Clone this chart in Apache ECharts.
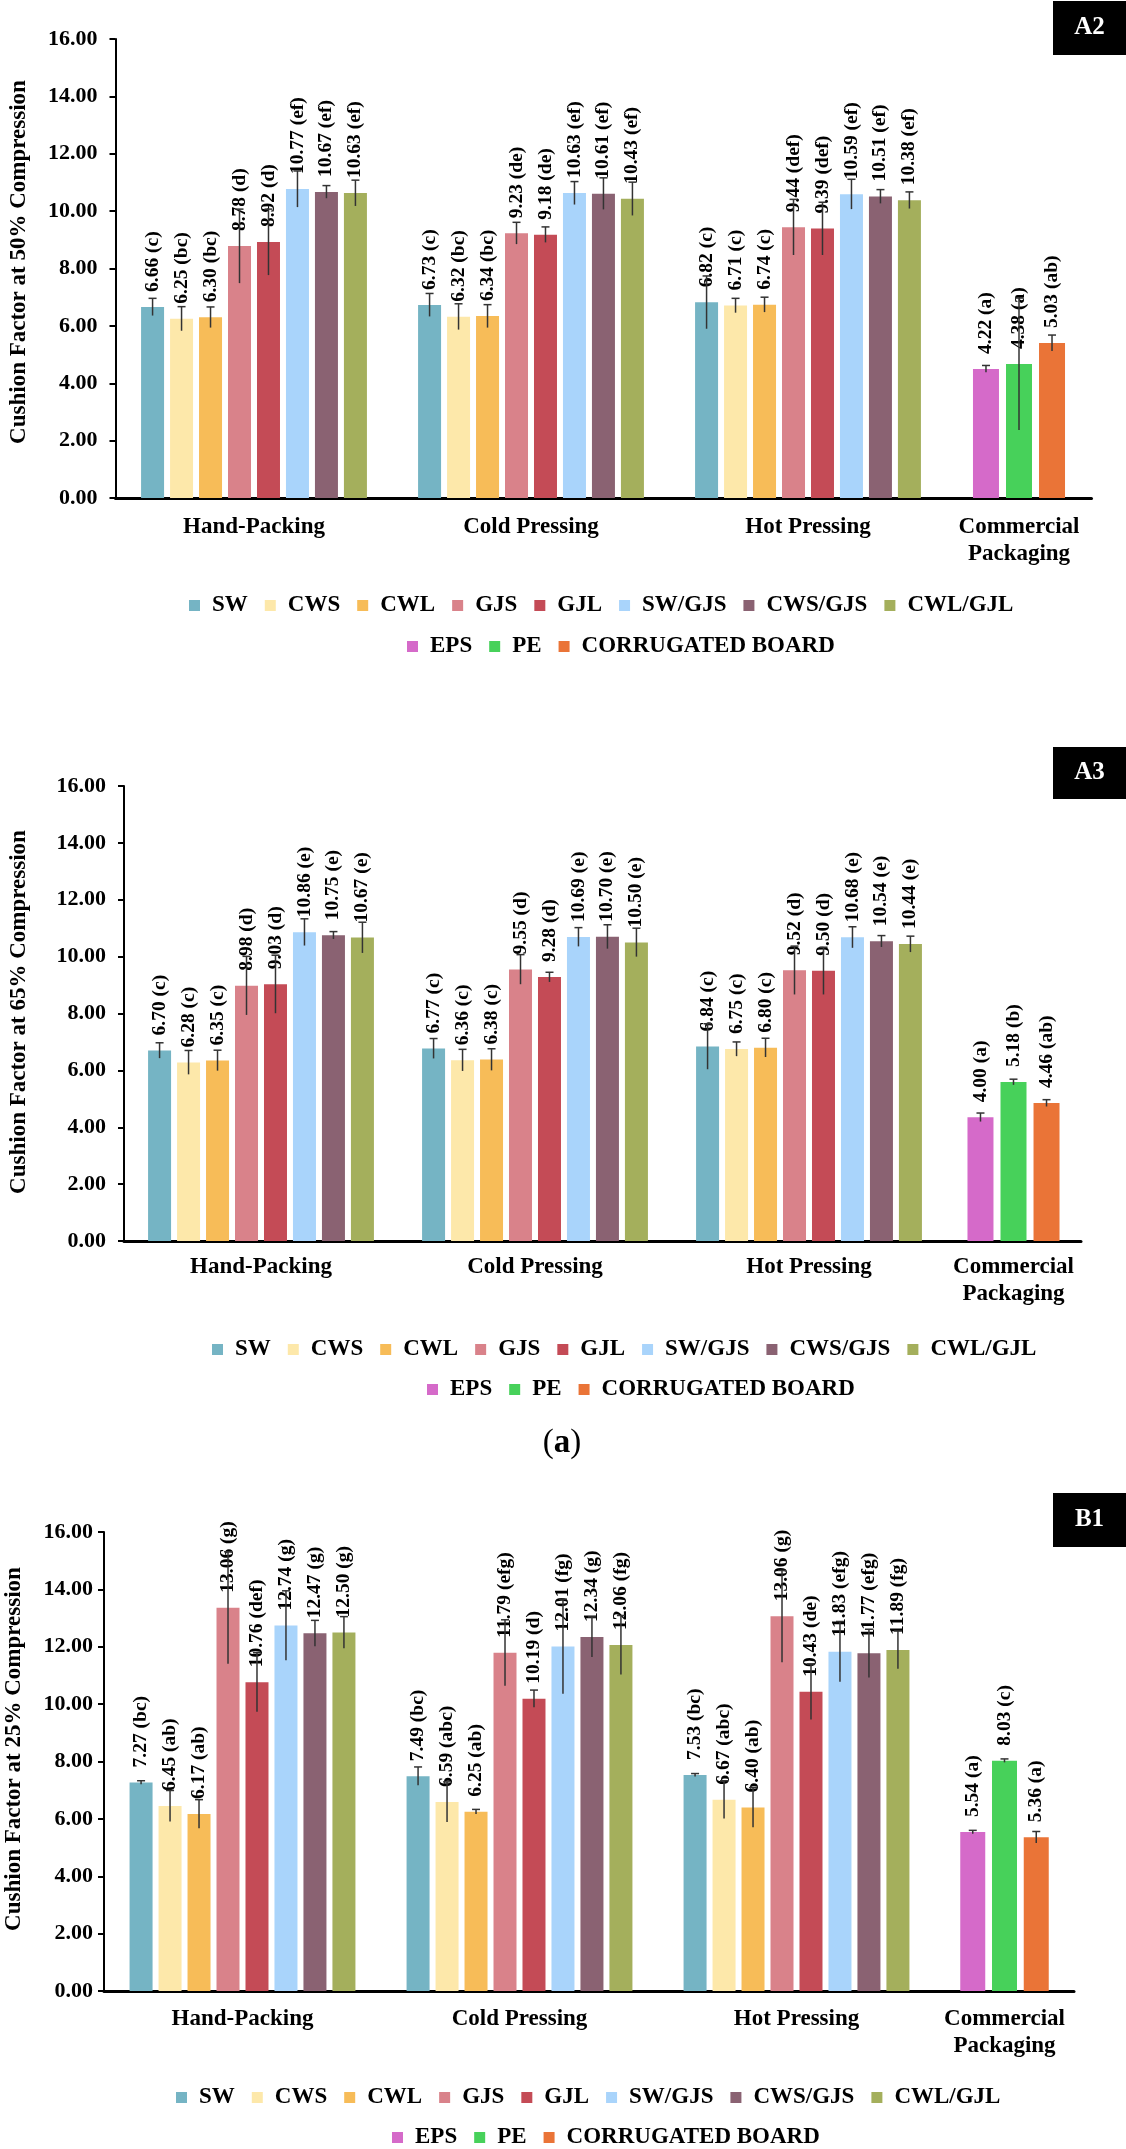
<!DOCTYPE html>
<html><head><meta charset="utf-8">
<script src="https://cdn.jsdelivr.net/npm/echarts@6/dist/echarts.min.js"></script>
<style>html,body{margin:0;padding:0;background:#fff}#c{width:1126px;height:2149px}</style>
</head><body><div id="c"></div>
<script>
// ---------- categories / names ----------
const GROUPS = ['Hand-Packing', 'Cold Pressing', 'Hot Pressing'];
const COMM_GROUP = ['Commercial\nPackaging'];
const FIBERS = ['SW', 'CWS', 'CWL', 'GJS', 'GJL', 'SW/GJS', 'CWS/GJS', 'CWL/GJL'];
const COMMERCIAL = ['EPS', 'PE', 'CORRUGATED BOARD'];
const Y_MIN = 0, Y_MAX = 16, Y_STEP = 2;

// ---------- A2 : 50% compression ----------
const A2_HAND = [6.66, 6.25, 6.30, 8.78, 8.92, 10.77, 10.67, 10.63];
const A2_COLD = [6.73, 6.32, 6.34, 9.23, 9.18, 10.63, 10.61, 10.43];
const A2_HOT  = [6.82, 6.71, 6.74, 9.44, 9.39, 10.59, 10.51, 10.38];
const A2_COMM = [4.50, 4.67, 5.40];
const A2_HAND_ERR = [0.30, 0.42, 0.36, 1.29, 1.15, 0.63, 0.22, 0.45];
const A2_COLD_ERR = [0.40, 0.45, 0.40, 0.38, 0.27, 0.40, 0.55, 0.58];
const A2_HOT_ERR  = [0.92, 0.25, 0.26, 0.97, 0.92, 0.52, 0.24, 0.29];
const A2_COMM_ERR = [0.12, 2.30, 0.28];
const A2_HAND_LBL = ['6.66 (c)', '6.25 (bc)', '6.30 (bc)', '8.78 (d)', '8.92 (d)', '10.77 (ef)', '10.67 (ef)', '10.63 (ef)'];
const A2_COLD_LBL = ['6.73 (c)', '6.32 (bc)', '6.34 (bc)', '9.23 (de)', '9.18 (de)', '10.63 (ef)', '10.61 (ef)', '10.43 (ef)'];
const A2_HOT_LBL  = ['6.82 (c)', '6.71 (c)', '6.74 (c)', '9.44 (def)', '9.39 (def)', '10.59 (ef)', '10.51 (ef)', '10.38 (ef)'];
const A2_COMM_LBL = ['4.22 (a)', '4.38 (a)', '5.03 (ab)'];

// ---------- A3 : 65% compression ----------
const A3_HAND = [6.70, 6.28, 6.35, 8.98, 9.03, 10.86, 10.75, 10.67];
const A3_COLD = [6.77, 6.36, 6.38, 9.55, 9.28, 10.69, 10.70, 10.50];
const A3_HOT  = [6.84, 6.75, 6.80, 9.52, 9.50, 10.68, 10.54, 10.44];
const A3_COMM = [4.35, 5.59, 4.85];
const A3_HAND_ERR = [0.27, 0.42, 0.36, 1.03, 1.02, 0.47, 0.13, 0.54];
const A3_COLD_ERR = [0.35, 0.38, 0.38, 0.52, 0.17, 0.33, 0.42, 0.50];
const A3_HOT_ERR  = [0.80, 0.25, 0.33, 0.85, 0.83, 0.37, 0.20, 0.28];
const A3_COMM_ERR = [0.15, 0.10, 0.12];
const A3_HAND_LBL = ['6.70 (c)', '6.28 (c)', '6.35 (c)', '8.98 (d)', '9.03 (d)', '10.86 (e)', '10.75 (e)', '10.67 (e)'];
const A3_COLD_LBL = ['6.77 (c)', '6.36 (c)', '6.38 (c)', '9.55 (d)', '9.28 (d)', '10.69 (e)', '10.70 (e)', '10.50 (e)'];
const A3_HOT_LBL  = ['6.84 (c)', '6.75 (c)', '6.80 (c)', '9.52 (d)', '9.50 (d)', '10.68 (e)', '10.54 (e)', '10.44 (e)'];
const A3_COMM_LBL = ['4.00 (a)', '5.18 (b)', '4.46 (ab)'];

// ---------- B1 : 25% compression ----------
const B1_HAND = [7.27, 6.45, 6.17, 13.36, 10.76, 12.74, 12.47, 12.50];
const B1_COLD = [7.49, 6.59, 6.25, 11.79, 10.19, 12.01, 12.34, 12.06];
const B1_HOT  = [7.53, 6.67, 6.40, 13.06, 10.43, 11.83, 11.77, 11.89];
const B1_COMM = [5.54, 8.03, 5.36];
const B1_HAND_ERR = [0.06, 0.54, 0.50, 1.95, 1.03, 1.21, 0.45, 0.55];
const B1_COLD_ERR = [0.32, 0.70, 0.08, 1.15, 0.30, 1.65, 0.70, 1.03];
const B1_HOT_ERR  = [0.05, 0.66, 0.69, 1.60, 0.97, 1.05, 0.84, 0.66];
const B1_COMM_ERR = [0.06, 0.06, 0.20];
const B1_HAND_LBL = ['7.27 (bc)', '6.45 (ab)', '6.17 (ab)', '13.06 (g)', '10.76 (def)', '12.74 (g)', '12.47 (g)', '12.50 (g)'];
const B1_COLD_LBL = ['7.49 (bc)', '6.59 (abc)', '6.25 (ab)', '11.79 (efg)', '10.19 (d)', '12.01 (fg)', '12.34 (g)', '12.06 (fg)'];
const B1_HOT_LBL  = ['7.53 (bc)', '6.67 (abc)', '6.40 (ab)', '13.06 (g)', '10.43 (de)', '11.83 (efg)', '11.77 (efg)', '11.89 (fg)'];
const B1_COMM_LBL = ['5.54 (a)', '8.03 (c)', '5.36 (a)'];

// ---------- styles ----------
const FIBER_COLORS = ['#75B4C4', '#FDE8AA', '#F7BC58', '#D9828A', '#C44B56', '#A9D4FB', '#8A6272', '#A4AF5C'];
const COMM_COLORS = ['#D56AC9', '#47D15A', '#EA7437'];
const FONT = '"Liberation Serif", "Times New Roman", serif';

const PANELS = [
  { tag: 'A2', title: 'Cushion Factor at 50% Compression',
    vals: [A2_HAND, A2_COLD, A2_HOT], errs: [A2_HAND_ERR, A2_COLD_ERR, A2_HOT_ERR], lbls: [A2_HAND_LBL, A2_COLD_LBL, A2_HOT_LBL],
    comm: A2_COMM, commErr: A2_COMM_ERR, commLbl: A2_COMM_LBL },
  { tag: 'A3', title: 'Cushion Factor at 65% Compression',
    vals: [A3_HAND, A3_COLD, A3_HOT], errs: [A3_HAND_ERR, A3_COLD_ERR, A3_HOT_ERR], lbls: [A3_HAND_LBL, A3_COLD_LBL, A3_HOT_LBL],
    comm: A3_COMM, commErr: A3_COMM_ERR, commLbl: A3_COMM_LBL },
  { tag: 'B1', title: 'Cushion Factor at 25% Compression',
    vals: [B1_HAND, B1_COLD, B1_HOT], errs: [B1_HAND_ERR, B1_COLD_ERR, B1_HOT_ERR], lbls: [B1_HAND_LBL, B1_COLD_LBL, B1_HOT_LBL],
    comm: B1_COMM, commErr: B1_COMM_ERR, commLbl: B1_COMM_LBL }
];

const LAYOUT = [
  { top: 39, bottom: 498, left: 115.5, w1: 831, w2: 145, bw1: 23, bw2: 26, xMargin: 16, yMargin: 18,
    titleX: 19, titleY: 262, tagY: 1, tagH: 54, leg1: [184, 589], leg2: [402, 630] },
  { top: 786, bottom: 1241, left: 124, w1: 822, w2: 135, bw1: 23, bw2: 26, xMargin: 13, yMargin: 18,
    titleX: 19, titleY: 1012, tagY: 747, tagH: 52, leg1: [207, 1333], leg2: [422, 1373] },
  { top: 1532, bottom: 1991, left: 104, w1: 831, w2: 139, bw1: 23, bw2: 25, xMargin: 15, yMargin: 11,
    titleX: 14, titleY: 1749, tagY: 1493, tagH: 54, leg1: [171, 2081], leg2: [387, 2121] }
];
const GAP1 = 0.26, GAP2 = 0.27;

const option = { animation: false, backgroundColor: '#fff', grid: [], xAxis: [], yAxis: [], series: [], legend: [], graphic: [] };

function labelCfg(fmt) {
  return { show: true, position: 'top', distance: 15, rotate: 90, align: 'left', verticalAlign: 'middle',
    formatter: fmt, fontFamily: FONT, fontWeight: 'bold', fontSize: 19.5, color: '#000' };
}

function errSeries(xi, data, n, pitch) {
  return {
    type: 'custom', xAxisIndex: xi, yAxisIndex: xi, silent: true, z: 10, data: data,
    encode: { x: 0, y: 2 },
    renderItem: function (params, api) {
      const cat = api.value(0), s = api.value(1), v = api.value(2), e = api.value(3);
      const c = api.coord([cat, v]);
      const hi = api.coord([cat, v + e]);
      const lo = api.coord([cat, v - e]);
      const x = c[0] + (s - (n - 1) / 2) * pitch;
      const st = { stroke: '#333333', lineWidth: 1.5 };
      return { type: 'group', children: [
        { type: 'line', shape: { x1: x, y1: lo[1], x2: x, y2: hi[1] }, style: st },
        { type: 'line', shape: { x1: x - 4, y1: hi[1], x2: x + 4, y2: hi[1] }, style: st }
      ] };
    }
  };
}

PANELS.forEach(function (P, p) {
  const L = LAYOUT[p];
  const g1 = 2 * p, g2 = 2 * p + 1;
  const h = L.bottom - L.top;
  option.grid.push({ left: L.left, top: L.top, width: L.w1, height: h, outerBoundsMode: 'none' });
  option.grid.push({ left: L.left + L.w1, top: L.top, width: L.w2, height: h, outerBoundsMode: 'none' });
  const xLbl = { fontFamily: FONT, fontWeight: 'bold', fontSize: 23, color: '#000', margin: L.xMargin, lineHeight: 27, interval: 0 };
  const xLine = { show: true, lineStyle: { color: '#000', width: 3 } };
  option.xAxis.push({ type: 'category', gridIndex: g1, data: GROUPS, axisLine: xLine, axisTick: { show: false }, axisLabel: xLbl });
  option.xAxis.push({ type: 'category', gridIndex: g2, data: COMM_GROUP, axisLine: xLine, axisTick: { show: false }, axisLabel: xLbl });
  option.yAxis.push({ type: 'value', gridIndex: g1, min: Y_MIN, max: Y_MAX, interval: Y_STEP,
    axisLine: { show: true, lineStyle: { color: '#000', width: 2 } },
    axisTick: { show: true, length: 6, lineStyle: { color: '#000', width: 2 } },
    splitLine: { show: false },
    axisLabel: { formatter: function (v) { return v.toFixed(2); }, fontFamily: FONT, fontWeight: 'bold', fontSize: 22, color: '#000', margin: L.yMargin } });
  option.yAxis.push({ type: 'value', gridIndex: g2, min: Y_MIN, max: Y_MAX, interval: Y_STEP, show: false, splitLine: { show: false } });

  // fibre bars
  const errData1 = [];
  FIBERS.forEach(function (name, s) {
    option.series.push({
      type: 'bar', name: name, xAxisIndex: g1, yAxisIndex: g1, barWidth: L.bw1, barGap: (GAP1 * 100) + '%',
      itemStyle: { color: FIBER_COLORS[s] },
      data: P.vals.map(function (arr) { return arr[s]; }),
      label: labelCfg(function (prm) { return P.lbls[prm.dataIndex][s]; })
    });
    P.vals.forEach(function (arr, g) { errData1.push([g, s, arr[s], P.errs[g][s]]); });
  });
  option.series.push(errSeries(g1, errData1, FIBERS.length, L.bw1 * (1 + GAP1)));

  // commercial bars
  const errData2 = [];
  COMMERCIAL.forEach(function (name, s) {
    option.series.push({
      type: 'bar', name: name, xAxisIndex: g2, yAxisIndex: g2, barWidth: L.bw2, barGap: (GAP2 * 100) + '%',
      itemStyle: { color: COMM_COLORS[s] },
      data: [P.comm[s]],
      label: labelCfg(function () { return P.commLbl[s]; })
    });
    errData2.push([0, s, P.comm[s], P.commErr[s]]);
  });
  option.series.push(errSeries(g2, errData2, COMMERCIAL.length, L.bw2 * (1 + GAP2)));

  const legText = { fontFamily: FONT, fontWeight: 'bold', fontSize: 23, color: '#000', padding: [0, 0, 0, 7] };
  option.legend.push({ left: L.leg1[0], top: L.leg1[1], itemWidth: 11, itemHeight: 11, itemGap: 17, icon: 'rect',
    selectedMode: false, textStyle: legText, data: FIBERS });
  option.legend.push({ left: L.leg2[0], top: L.leg2[1], itemWidth: 11, itemHeight: 11, itemGap: 17, icon: 'rect',
    selectedMode: false, textStyle: legText, data: COMMERCIAL });

  // tag box
  option.graphic.push({ type: 'rect', shape: { x: 1053, y: L.tagY, width: 73, height: L.tagH }, style: { fill: '#000' } });
  option.graphic.push({ type: 'text', x: 1089.5, y: L.tagY + L.tagH / 2,
    style: { text: P.tag, fill: '#fff', fontFamily: FONT, fontWeight: 'bold', fontSize: 25, align: 'center', verticalAlign: 'middle' } });
  // y-axis title
  option.graphic.push({ type: 'text', x: L.titleX, y: L.titleY, rotation: Math.PI / 2,
    style: { text: P.title, fill: '#000', fontFamily: FONT, fontWeight: 'bold', fontSize: 23, align: 'center', verticalAlign: 'middle' } });
});

// sub-figure label "(a)"
option.graphic.push({ type: 'text', x: 562, y: 1443,
  style: { text: '{p|(}{b|a}{p|)}', align: 'center', verticalAlign: 'middle',
    rich: { p: { fontFamily: FONT, fontSize: 33, fill: '#000' }, b: { fontFamily: FONT, fontSize: 33, fontWeight: 'bold', fill: '#000' } } } });

const chart = echarts.init(document.getElementById('c'), null, { renderer: 'canvas' });
chart.setOption(option);
</script>
</body></html>
